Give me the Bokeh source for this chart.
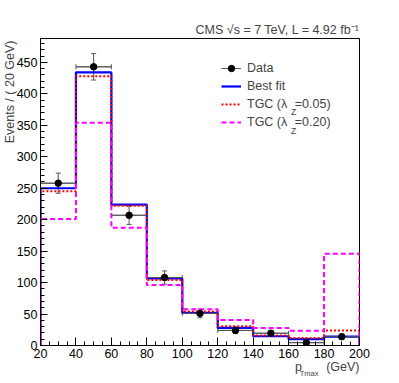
import numpy as np
from bokeh.plotting import figure
from bokeh.models import (FixedTicker, Label, Legend, LegendItem, Whisker,
                          TeeHead, ColumnDataSource, Range1d, Title)
from bokeh.embed import file_html
from bokeh.resources import INLINE

# ---- data ----
bin_edges = [20, 40, 60, 80, 100, 120, 140, 160, 180, 200]
data_counts = [258, 443, 207, 108, 51, 24, 19.5, 4.5, 14]
data_errors = [16, 21, 14.5, 10.5, 7, 5, 4.5, 2, 4]
best_fit = [250, 434, 224, 106.5, 52, 28, 14.7, 10, 14]
tgc_005 = [245, 428, 222, 104, 54, 30.5, 16, 12, 24]
tgc_020 = [201, 354, 187, 96, 57.5, 40.5, 28, 23.5, 146]

x_ticks = [20, 40, 60, 80, 100, 120, 140, 160, 180, 200]
y_ticks = [0, 50, 100, 150, 200, 250, 300, 350, 400, 450]
x_minor = list(range(20, 201, 5))
y_minor = list(range(0, 481, 10))

FONT = "Liberation Sans"
FS = "12.5px"
NB = "\u00a0"


def step_xy(edges, vals):
    e = np.asarray(edges, float)
    v = np.asarray(vals, float)
    xs = np.repeat(e, 2)
    ys = np.concatenate([[0.0], np.repeat(v, 2), [0.0]])
    return xs, ys


p = figure(width=399, height=383, output_backend="svg", toolbar_location=None,
           x_range=Range1d(20, 200), y_range=Range1d(0, 488),
           min_border_left=40, min_border_right=40,
           min_border_top=38, min_border_bottom=38)
p.background_fill_color = "white"
p.border_fill_color = "white"
p.grid.visible = False
p.outline_line_color = "black"
p.outline_line_width = 1

# axes
for ax in (p.xaxis[0], p.yaxis[0]):
    ax.axis_line_color = "black"
    ax.major_tick_line_color = "black"
    ax.minor_tick_line_color = "black"
    ax.major_tick_out = 0
    ax.minor_tick_out = 0
    ax.minor_tick_in = 4
    ax.major_label_text_font = FONT
    ax.major_label_text_font_size = FS
    ax.major_label_text_color = "black"
p.xaxis.major_tick_in = 8
p.yaxis.major_tick_in = 7
p.xaxis.ticker = FixedTicker(ticks=x_ticks, minor_ticks=x_minor)
p.yaxis.ticker = FixedTicker(ticks=y_ticks, minor_ticks=y_minor)
p.xaxis.major_label_standoff = 3
p.yaxis.major_label_standoff = 3

# histograms
bx, by = step_xy(bin_edges, best_fit)
r_blue = p.line(bx, by, line_color="#0000ff", line_width=2.2)
rx, ry = step_xy(bin_edges, tgc_005)
r_red = p.line(rx, ry, line_color="#ff0000", line_width=2, line_dash="2 2")
mx, my = step_xy(bin_edges, tgc_020)
r_mag = p.line(mx, my, line_color="#ff00ff", line_width=2, line_dash="5 3")

# data points with error bars
e = np.asarray(bin_edges, float)
centers = (e[:-1] + e[1:]) / 2
cnt = np.asarray(data_counts, float)
err = np.asarray(data_errors, float)
src = ColumnDataSource(dict(x=centers, y=cnt, x0=e[:-1], x1=e[1:],
                            lo=cnt - err, hi=cnt + err))
ERR_COL = "#555555"
r_h = p.segment(x0="x0", y0="y", x1="x1", y1="y", source=src,
                line_color=ERR_COL, line_width=1)
p.add_layout(Whisker(source=src, base="x", lower="lo", upper="hi",
                     dimension="height", line_color=ERR_COL, line_width=1,
                     upper_head=TeeHead(size=5, line_color=ERR_COL, line_width=1),
                     lower_head=TeeHead(size=5, line_color=ERR_COL, line_width=1)))
p.add_layout(Whisker(source=src, base="y", lower="x0", upper="x1",
                     dimension="width", line_color=ERR_COL, line_width=1,
                     upper_head=TeeHead(size=5, line_color=ERR_COL, line_width=1),
                     lower_head=TeeHead(size=5, line_color=ERR_COL, line_width=1)))
r_pts = p.scatter(x="x", y="y", source=src, size=6.5, marker="circle",
                  fill_color="black", line_color="black")

# legend
legend = Legend(items=[
    LegendItem(label="Data", renderers=[r_h, r_pts]),
    LegendItem(label="Best fit", renderers=[r_blue]),
    LegendItem(label="TGC (\u03bb\u2009\u2009\u2009=0.05)", renderers=[r_red]),
    LegendItem(label="TGC (\u03bb\u2009\u2009\u2009=0.20)", renderers=[r_mag]),
], location=(181, 215))
legend.padding = 0
legend.margin = 0
legend.spacing = 2
legend.glyph_width = 20
legend.glyph_height = 16
legend.label_height = 16
legend.label_standoff = 6
legend.label_text_font = FONT
legend.label_text_font_size = FS
legend.border_line_alpha = 0
legend.background_fill_alpha = 0
p.add_layout(legend)

# subscripts for lambda_Z in legend
for yv in (370.5, 341.0):
    p.add_layout(Label(x=161.4, y=yv, text="Z", text_font=FONT,
                       text_font_size="8.5px", text_align="left",
                       text_baseline="alphabetic"))

# title (top right)
p.title.text = "CMS \u221as = 7 TeV, L = 4.92 fb\u207b\u00b9"
p.title.align = "right"
p.title.text_font = FONT
p.title.text_font_size = FS
p.title.text_font_style = "normal"
p.title.standoff = 3
p.title.offset = 0

# y axis label as a side title, aligned to the top
ylab = Title(text="Events / ( 20 GeV)", align="right", text_font=FONT,
             text_font_size=FS, text_font_style="normal", standoff=-7, offset=2)
p.add_layout(ylab, "left")

# x axis label as bottom titles, aligned to the right
xlab = Title(text="p" + NB * 7 + "(GeV)", align="right", text_font=FONT,
             text_font_size=FS, text_font_style="normal", standoff=-5, offset=0)
p.add_layout(xlab, "below")
xsub = Title(text="Tmax", align="right", text_font=FONT,
             text_font_size="7.5px", text_font_style="normal", standoff=-10,
             offset=41)
p.add_layout(xsub, "below")

open("out.html", "w").write(file_html(p, INLINE))
